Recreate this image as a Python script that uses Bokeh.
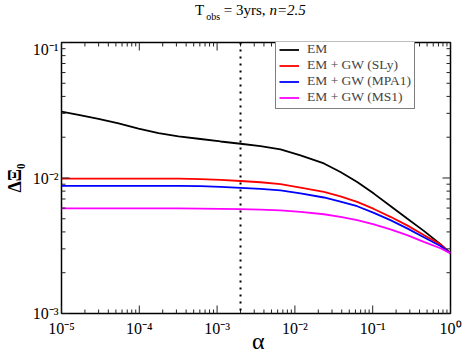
import math
from bokeh.plotting import figure
from bokeh.layouts import column
from bokeh.models import (Range1d, FixedTicker, CustomJSTickFormatter,
                          Legend, LegendItem, Span, Div)
from bokeh.embed import file_html
from bokeh.resources import INLINE

# ---------------- data ----------------
alpha = [1e-5, 1.656e-5, 2.99e-5, 5.41e-5, 9.77e-5, 1.766e-4, 3.19e-4,
         6.12e-4, 1.107e-3, 2.0e-3, 3.61e-3, 6.53e-3, 1.18e-2, 2.36e-2,
         3.85e-2, 6.32e-2, 0.1035, 0.169, 0.277, 0.454, 0.743, 1.0]
em = [0.0309, 0.0292, 0.0273, 0.0253, 0.0231, 0.0214, 0.0203, 0.0194, 0.0186,
      0.0179, 0.0172, 0.01626, 0.01469, 0.0128, 0.01106, 0.00935, 0.00767,
      0.00622, 0.00502, 0.00407, 0.00325, 0.00278]
em_gw_sly = [0.0099, 0.0099, 0.0099, 0.0099, 0.0099, 0.0099, 0.0099, 0.0098,
             0.0097, 0.0095, 0.0093, 0.0090, 0.0085, 0.00789, 0.00733,
             0.00667, 0.00591, 0.00517, 0.00447, 0.00379, 0.00324, 0.00278]
em_gw_mpa1 = [0.00875, 0.00875, 0.00875, 0.00875, 0.00875, 0.00875, 0.00875,
              0.0087, 0.0086, 0.00845, 0.0083, 0.0081, 0.0077, 0.00718,
              0.0067, 0.00619, 0.00553, 0.00489, 0.00425, 0.00365, 0.00315,
              0.00278]
em_gw_ms1 = [0.00596, 0.00596, 0.00596, 0.00596, 0.00596, 0.00596, 0.00596,
             0.00595, 0.00592, 0.00589, 0.00584, 0.00576, 0.00563, 0.0054,
             0.00516, 0.00489, 0.00454, 0.00418, 0.00379, 0.00338, 0.00303,
             0.00278]
series_names = ["EM", "EM + GW (SLy)", "EM + GW (MPA1)", "EM + GW (MS1)"]
series_colors = ["#000000", "#ff0000", "#0000ff", "#ff00ff"]
alpha_marker = 2e-3

x_lo, x_hi = 1e-5, 1.0
y_lo, y_hi = 1e-3, 1e-1
x_tick_exps = [-5, -4, -3, -2, -1, 0]
x_tick_labels = ["10⁻⁵", "10⁻⁴", "10⁻³", "10⁻²", "10⁻¹", "10⁰"]
y_tick_exps = [-3, -2, -1]
y_tick_labels = ["10⁻³", "10⁻²", "10⁻¹"]

title_main = "T"
title_sub = "obs"
title_mid = "= 3yrs,"
title_ital = "n=2.5"
x_label = "α"
y_label = "ΔΞ₀"

FONT = "Liberation Serif"

# frame: left 61, right 450, top 42, bottom 314 (in page pixels)
W, H = 463, 355
TITLE_H = 40
XLAB_H = 16
FL, FR, FT, FB = 61, 13, 2, 25
PH = H - TITLE_H - XLAB_H
FH = PH - FT - FB

title = Div(text=(
    f'<div style="font-family:\'{FONT}\';font-size:15px;line-height:17px;'
    f'color:black;white-space:nowrap;padding-left:195px;padding-top:2px;">'
    f'{title_main}<span style="font-size:10px;vertical-align:-5px;'
    f'margin-left:2px;">{title_sub}</span> {title_mid} '
    f'<i>{title_ital}</i></div>'),
    width=W, height=TITLE_H, margin=0)

xlab = Div(text=(
    f'<div style="font-family:\'{FONT}\';font-size:24px;line-height:16px;'
    f'color:black;white-space:nowrap;padding-left:252px;position:relative;'
    f'top:-6px;overflow:visible;">{x_label}</div>'),
    width=W, height=XLAB_H, margin=0, styles={"overflow": "visible"})

p = figure(width=W, height=PH, x_axis_type="log", y_axis_type="log",
           x_range=Range1d(x_lo, x_hi), y_range=Range1d(y_lo, y_hi),
           output_backend="svg", toolbar_location=None,
           min_border_left=FL, min_border_right=FR,
           min_border_top=FT, min_border_bottom=FB, margin=0)
p.grid.visible = False
p.outline_line_color = "black"
p.outline_line_width = 1.5
p.background_fill_color = "white"
p.border_fill_color = "white"


def majors(exps):
    return [10.0 ** e for e in exps]


def minors(exps):
    return [m * 10.0 ** e for e in exps[:-1] for m in range(2, 10)]


def make_formatter(exps, labels):
    return CustomJSTickFormatter(args=dict(exps=exps, labels=labels), code="""
        const e = Math.round(Math.log10(tick));
        const i = exps.indexOf(e);
        return i >= 0 ? labels[i] : '';
    """)


def style_axis(ax, exps, labels, standoff):
    ax.ticker = FixedTicker(ticks=majors(exps), minor_ticks=[])
    ax.formatter = make_formatter(exps, labels)
    ax.major_tick_line_color = None
    ax.minor_tick_line_color = None
    ax.major_tick_in = 0
    ax.major_tick_out = 0
    ax.minor_tick_in = 0
    ax.minor_tick_out = 0
    ax.axis_line_color = None
    ax.major_label_text_font = FONT
    ax.major_label_text_font_size = "16px"
    ax.major_label_text_color = "black"
    ax.major_label_standoff = standoff


xax = p.xaxis[0]
style_axis(xax, x_tick_exps, x_tick_labels, 6)

yax = p.yaxis[0]
style_axis(yax, y_tick_exps, y_tick_labels, 3)
yax.axis_label = y_label
yax.axis_label_text_font = FONT
yax.axis_label_text_font_style = "bold"
yax.axis_label_text_font_size = "18px"
yax.axis_label_text_color = "black"
yax.axis_label_standoff = 5

# data curves
items = []
for ys, name, col in zip([em, em_gw_sly, em_gw_mpa1, em_gw_ms1],
                         series_names, series_colors):
    r = p.line(alpha, ys, line_color=col, line_width=1.8)
    items.append(LegendItem(label=name, renderers=[r]))

# inward ticks on all four sides (dash markers centred on the frame edge,
# the outer half is clipped by the frame)
TICK = "#222222"
xM, xm = majors(x_tick_exps), minors(x_tick_exps)
yM, ym = majors(y_tick_exps), minors(y_tick_exps)
for yy in (y_lo, y_hi):
    p.scatter(xM, [yy] * len(xM), marker="dash", angle=math.pi / 2, size=16,
              line_color=TICK, line_width=1)
    p.scatter(xm, [yy] * len(xm), marker="dash", angle=math.pi / 2, size=8,
              line_color=TICK, line_width=1)
for xx in (x_lo, x_hi):
    p.scatter([xx] * len(yM), yM, marker="dash", size=16,
              line_color=TICK, line_width=1)
    p.scatter([xx] * len(ym), ym, marker="dash", size=8,
              line_color=TICK, line_width=1)

p.add_layout(Span(location=alpha_marker, dimension="height", line_color="black",
                  line_width=2, line_dash="2 5"))

legend = Legend(items=items, location=(214, FH - 68))
legend.border_line_color = "black"
legend.border_line_width = 1
legend.padding = 3
legend.spacing = 0
legend.margin = 0
legend.label_text_font = FONT
legend.label_text_font_size = "13.5px"
legend.glyph_width = 20
legend.glyph_height = 15
legend.label_height = 15
legend.label_standoff = 8
legend.background_fill_color = "white"
legend.background_fill_alpha = 1
p.add_layout(legend)

layout = column(title, p, xlab, spacing=0, margin=0)
open("out.html", "w").write(file_html(layout, INLINE))
